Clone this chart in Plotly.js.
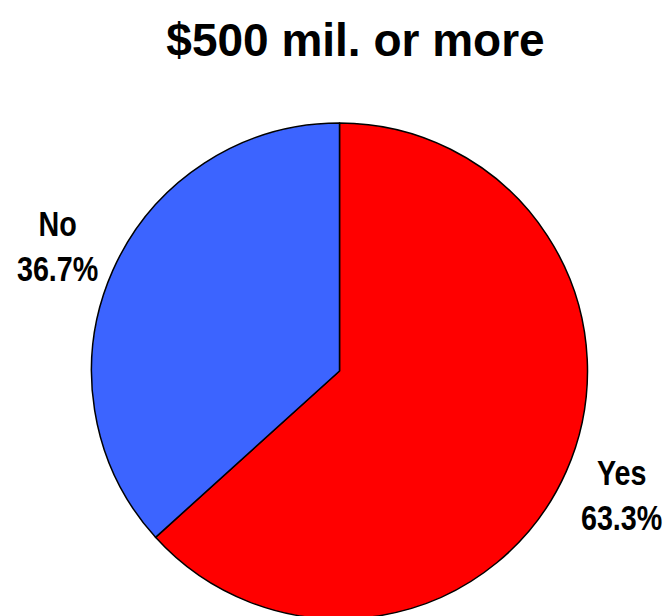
<!DOCTYPE html>
<html>
<head>
<meta charset="utf-8">
<script src="https://cdn.plot.ly/plotly-3.0.1.min.js"></script>
<style>
html, body { margin: 0; padding: 0; overflow: hidden; background: #fff; }
#chart { width: 665px; height: 620px; }
</style>
</head>
<body>
<div id="chart"></div>
<script>
const chartTitle = '$500 mil. or more';
const labels = ['Yes', 'No'];
const values = [63.3, 36.7];
const colors = ['#FF0000', '#3C64FF'];

const W = 665, H = 620;
const cx = 339.5, cy = 371, r = 248;
const labelDist = 1.242;

const total = values.reduce((a, b) => a + b, 0);
let cum = 0;
const annotations = labels.map((lab, i) => {
  const mid = (cum + values[i] / 2) / total * 2 * Math.PI;
  cum += values[i];
  const px = cx + labelDist * r * Math.sin(mid);
  const py = cy - labelDist * r * Math.cos(mid);
  const pct = (values[i] / total * 100).toFixed(1) + '%';
  return {
    text: '<b>' + lab + '</b><br><b>' + pct + '</b>',
    x: px / W, y: 1 - py / H, xref: 'paper', yref: 'paper',
    xanchor: 'center', yanchor: 'middle', showarrow: false,
    font: { family: '"Liberation Sans", Arial, sans-serif', size: 35, color: '#000' }
  };
});

const trace = {
  type: 'pie',
  labels: labels,
  values: values,
  sort: false,
  direction: 'clockwise',
  rotation: 0,
  textinfo: 'none',
  hoverinfo: 'none',
  showlegend: false,
  marker: { colors: colors, line: { color: '#000', width: 1.5 } },
  domain: { x: [(cx - r) / W, (cx + r) / W], y: [1 - (cy + r) / H, 1 - (cy - r) / H] }
};

const layout = {
  width: W, height: H,
  margin: { l: 0, r: 0, t: 0, b: 0 },
  paper_bgcolor: '#fff',
  title: {
    text: '<b>' + chartTitle + '</b>',
    x: 355.5 / W, xanchor: 'center',
    y: 1 - 40 / H, yanchor: 'middle', yref: 'container',
    font: { family: '"Liberation Sans", Arial, sans-serif', size: 46, color: '#000' }
  },
  annotations: annotations,
  showlegend: false
};

Plotly.newPlot('chart', [trace], layout, { displayModeBar: false, staticPlot: true }).then(() => {
  document.querySelectorAll('.annotation-text').forEach(t => {
    t.style.transformBox = 'fill-box';
    t.style.transformOrigin = 'center';
    t.style.transform = 'scaleX(0.82)';
  });
});
</script>
</body>
</html>
